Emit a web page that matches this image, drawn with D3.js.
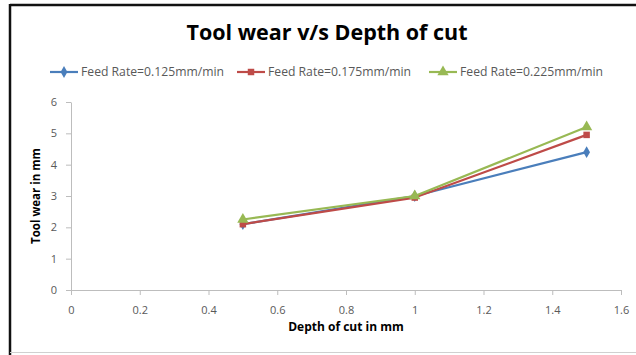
<!DOCTYPE html>
<html>
<head>
<meta charset="utf-8">
<script src="https://cdn.jsdelivr.net/npm/d3@7"></script>
<style>
  html, body { margin: 0; padding: 0; background: #fff; }
  svg { display: block; font-family: "Open Sans", "Liberation Sans", sans-serif; }
</style>
</head>
<body>
<svg id="chart" width="636" height="355"></svg>
<script>
// Depth of cut (mm) on x, tool wear (mm) on y, one series per feed rate
const depthOfCut = [0.5, 1.0, 1.5];
const seriesNames = ["Feed Rate=0.125mm/min", "Feed Rate=0.175mm/min", "Feed Rate=0.225mm/min"];
const wear0125 = [2.1, 3.0, 4.4];
const wear0175 = [2.1, 2.95, 4.95];
const wear0225 = [2.25, 3.0, 5.2];
const xTicks = [0, 0.2, 0.4, 0.6, 0.8, 1, 1.2, 1.4, 1.6];
const yTicks = [0, 1, 2, 3, 4, 5, 6];

const colors = ["#4a7ebb", "#be4b48", "#98b954"];
const symbols = [d3.symbolDiamond, d3.symbolSquare, d3.symbolTriangle];
const symbolSizes = [40, 42, 55];

const series = [wear0125, wear0175, wear0225].map((vals, i) => ({
  name: seriesNames[i],
  color: colors[i],
  symbol: symbols[i],
  size: symbolSizes[i],
  points: depthOfCut.map((x, j) => ({ x, y: vals[j] }))
}));

const svg = d3.select("#chart");

// frame
svg.append("line").attr("x1", 10).attr("y1", 5).attr("x2", 636).attr("y2", 5)
  .attr("stroke", "#111").attr("stroke-width", 2.5);
svg.append("line").attr("x1", 10).attr("y1", 4).attr("x2", 10).attr("y2", 355)
  .attr("stroke", "#111").attr("stroke-width", 2.5);
svg.append("line").attr("x1", 10).attr("y1", 352.5).attr("x2", 636).attr("y2", 352.5)
  .attr("stroke", "#d0d0d0").attr("stroke-width", 1);

const x = d3.scaleLinear().domain([0, 1.6]).range([71, 621]);
const y = d3.scaleLinear().domain([0, 6]).range([290, 102]);

// title
svg.append("text")
  .attr("x", 327).attr("y", 40)
  .attr("text-anchor", "middle")
  .attr("font-size", 21.5).attr("font-weight", "bold")
  .attr("fill", "#000")
  .text("Tool wear v/s Depth of cut");

// axes
const axisColor = "#bdbdbd";
const tickColor = "#595959";

const xAxis = svg.append("g")
  .attr("transform", `translate(0,${y(0)})`)
  .call(d3.axisBottom(x).tickValues(xTicks).tickSize(5).tickSizeOuter(0).tickPadding(11)
    .tickFormat(d => d3.format("")(d)));
const yAxis = svg.append("g")
  .attr("transform", `translate(${x(0)},0)`)
  .call(d3.axisLeft(y).tickValues(yTicks).tickSize(5).tickSizeOuter(0).tickPadding(9)
    .tickFormat(d3.format("d")));

[xAxis, yAxis].forEach(g => {
  g.select(".domain").attr("stroke", axisColor);
  g.selectAll(".tick line").attr("stroke", axisColor);
  g.selectAll(".tick text").attr("fill", tickColor).attr("font-size", 11)
    .attr("font-family", "\"Open Sans\", \"Liberation Sans\", sans-serif");
});

// axis titles
svg.append("text")
  .attr("x", 346).attr("y", 331)
  .attr("text-anchor", "middle")
  .attr("font-size", 12).attr("font-weight", "bold").attr("fill", "#000")
  .text("Depth of cut in mm");
svg.append("text")
  .attr("transform", `translate(40,${(y(0) + y(6)) / 2}) rotate(-90)`)
  .attr("text-anchor", "middle")
  .attr("font-size", 11.5).attr("font-weight", "bold").attr("fill", "#000")
  .text("Tool wear in mm");

// series lines and markers
const line = d3.line().x(d => x(d.x)).y(d => y(d.y));
series.forEach(s => {
  const g = svg.append("g");
  g.append("path").datum(s.points)
    .attr("d", line).attr("fill", "none")
    .attr("stroke", s.color).attr("stroke-width", 2.2)
    .attr("stroke-linejoin", "round");
  g.selectAll("path.marker").data(s.points).join("path")
    .attr("class", "marker")
    .attr("transform", d => `translate(${x(d.x)},${y(d.y)})`)
    .attr("d", d3.symbol().type(s.symbol).size(s.size))
    .attr("fill", s.color);
});

// legend
const legendX = [50, 237, 429];
const legendY = 72;
series.forEach((s, i) => {
  const g = svg.append("g").attr("transform", `translate(${legendX[i]},${legendY})`);
  g.append("line").attr("x1", 0).attr("x2", 28).attr("y1", 0).attr("y2", 0)
    .attr("stroke", s.color).attr("stroke-width", 2.2);
  g.append("path").attr("transform", "translate(14,0)")
    .attr("d", d3.symbol().type(s.symbol).size(s.size))
    .attr("fill", s.color);
  g.append("text").attr("x", 31).attr("y", 4.2)
    .attr("font-size", 12.2).attr("fill", "#595959")
    .text(s.name);
});
</script>
</body>
</html>
